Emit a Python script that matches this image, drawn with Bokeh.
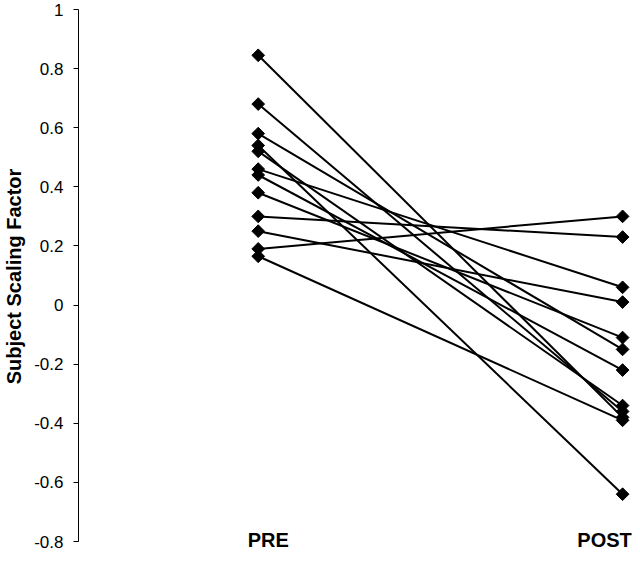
import math
from bokeh.plotting import figure
from bokeh.models import FixedTicker, ColumnDataSource
from bokeh.core.properties import value
from bokeh.embed import file_html
from bokeh.resources import INLINE

# ---- data ----
categories = ["PRE", "POST"]
pre_values = [0.845, 0.68, 0.58, 0.54, 0.52, 0.46, 0.44, 0.38, 0.30, 0.25, 0.19, 0.165]
post_values = [-0.38, -0.36, -0.15, -0.64, -0.34, 0.06, -0.22, -0.11, 0.23, 0.01, 0.30, -0.39]
y_ticks = [-0.8, -0.6, -0.4, -0.2, 0.0, 0.2, 0.4, 0.6, 0.8, 1.0]
y_tick_labels = ["-0.8", "-0.6", "-0.4", "-0.2", "0", "0.2", "0.4", "0.6", "0.8", "1"]
y_title = "Subject Scaling Factor"

FONT = "Liberation Sans"

p = figure(width=632, height=566, output_backend="svg", toolbar_location=None,
           x_range=(-0.4932, 1.0272), y_range=(-0.8372, 1.0304))
p.min_border_left = 74
p.min_border_right = 0
p.min_border_top = 0
p.min_border_bottom = 14
p.outline_line_color = None
p.background_fill_color = "white"
p.border_fill_color = "white"
p.xgrid.visible = False
p.ygrid.visible = False
p.xaxis.visible = False

ya = p.yaxis[0]
ya.ticker = FixedTicker(ticks=y_ticks)
ya.major_label_overrides = {t: l for t, l in zip(y_ticks, y_tick_labels)}
ya.bounds = (-0.8, 1.0)
ya.minor_tick_line_color = None
ya.major_tick_out = 5
ya.major_tick_in = 0
ya.major_tick_line_width = 1
ya.axis_line_width = 1
ya.axis_line_color = "black"
ya.major_tick_line_color = "black"
ya.major_label_standoff = 10
ya.major_label_text_font = FONT
ya.major_label_text_font_size = "17px"
ya.major_label_text_color = "black"
ya.axis_label = y_title
ya.axis_label_text_font = FONT
ya.axis_label_text_font_size = "20px"
ya.axis_label_text_font_style = "bold"
ya.axis_label_text_color = "black"
ya.axis_label_standoff = 6

n = len(pre_values)
src = ColumnDataSource(dict(x0=[0] * n, y0=pre_values, x1=[1] * n, y1=post_values))
p.segment(x0="x0", y0="y0", x1="x1", y1="y1", source=src, line_color="black", line_width=2)
p.scatter(x=[0] * n, y=pre_values, marker="square", angle=math.pi / 4, size=9,
          fill_color="black", line_color="black")
p.scatter(x=[1] * n, y=post_values, marker="square", angle=math.pi / 4, size=9,
          fill_color="black", line_color="black")

# category labels
p.text(x=[0], y=[-0.8], text=[categories[0]], x_offset=10, y_offset=-2,
       text_align="center", text_baseline="alphabetic",
       text_font=value(FONT), text_font_size="20px", text_font_style="bold", text_color="black")
p.text(x=[1], y=[-0.8], text=[categories[1]], x_offset=-18, y_offset=-2,
       text_align="center", text_baseline="alphabetic",
       text_font=value(FONT), text_font_size="20px", text_font_style="bold", text_color="black")

open("out.html", "w").write(file_html(p, INLINE))
